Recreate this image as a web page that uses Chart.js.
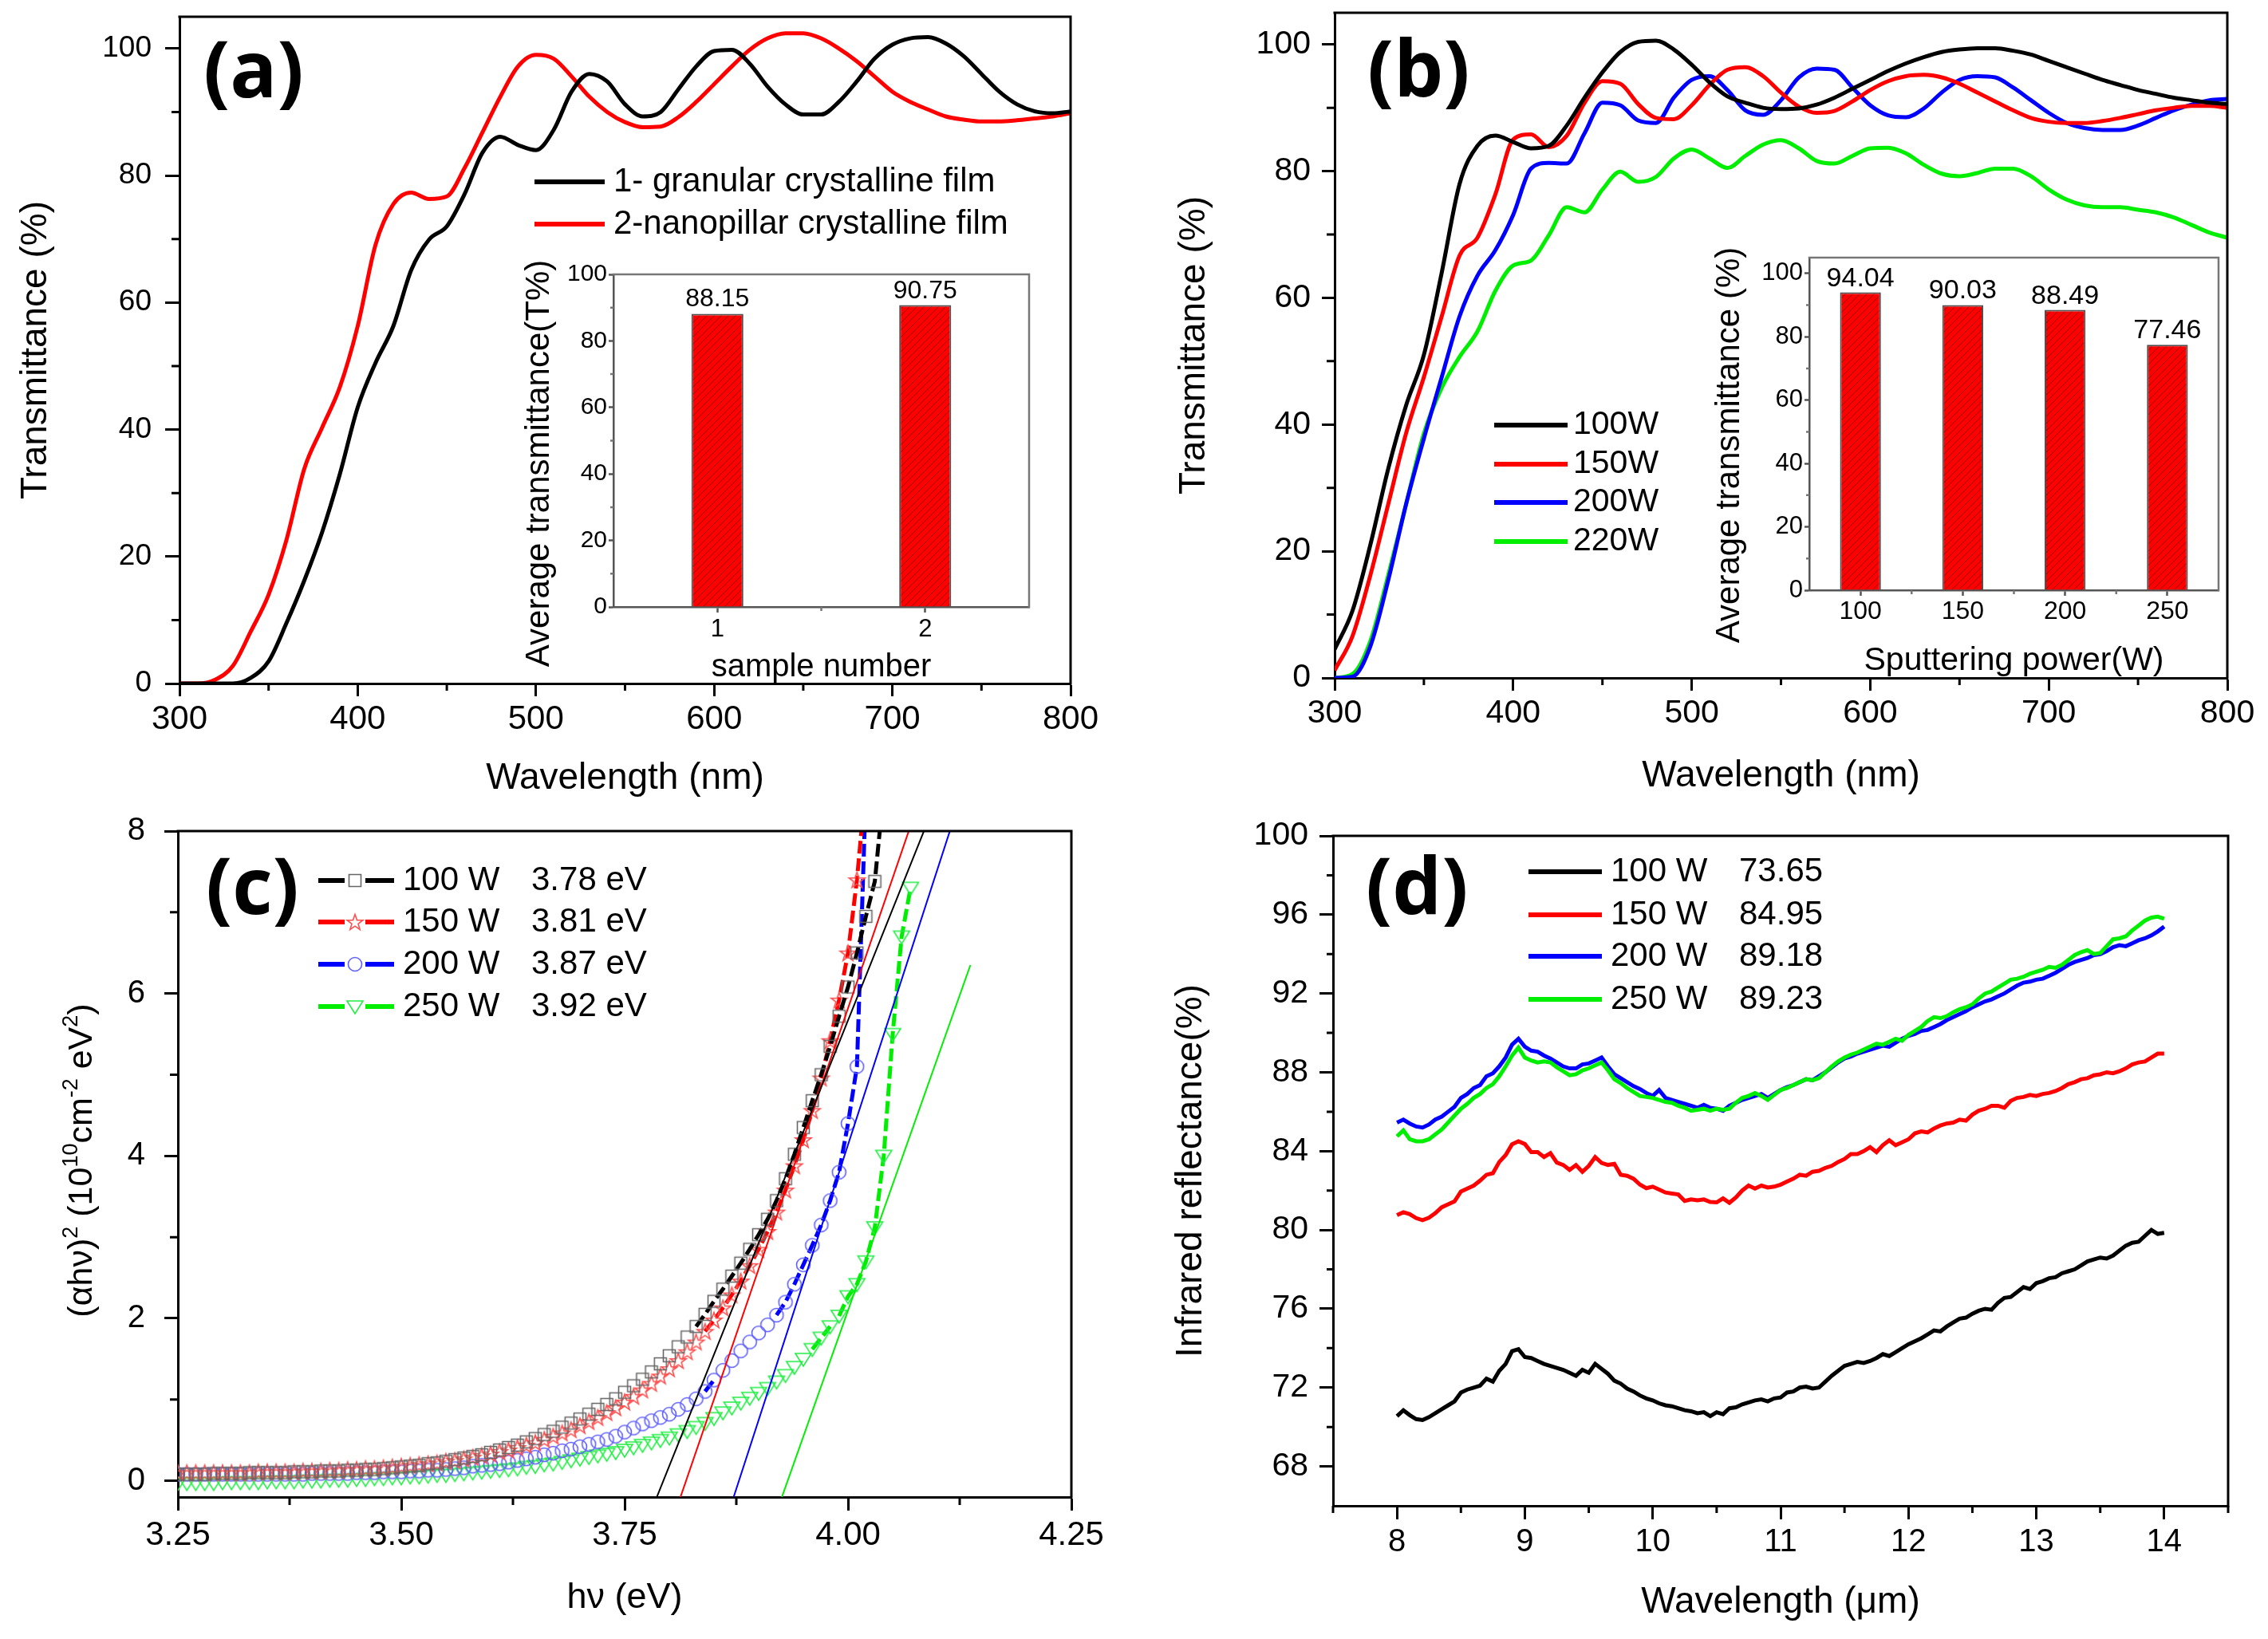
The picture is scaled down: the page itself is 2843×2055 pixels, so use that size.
<!DOCTYPE html>
<html><head><meta charset="utf-8">
<script src="https://cdn.jsdelivr.net/npm/chart.js"></script>
<style>
html,body{margin:0;padding:0;background:#fff;}
body{width:2843px;height:2055px;position:relative;overflow:hidden;}
canvas{position:absolute;}
</style></head><body>
<canvas id="cA" width="1420" height="1000" style="left:0px;top:0px"></canvas>
<canvas id="cB" width="1423" height="1000" style="left:1420px;top:0px"></canvas>
<canvas id="cC" width="1420" height="1055" style="left:0px;top:1000px"></canvas>
<canvas id="cD" width="1423" height="1055" style="left:1420px;top:1000px"></canvas>
<canvas id="cAi" width="700" height="560" style="left:640px;top:300px"></canvas>
<canvas id="cBi" width="690" height="570" style="left:2140px;top:290px"></canvas>
<script>
// ---------------- DATA ----------------
const wavelengthNm = [300,310,320,330,340,350,360,370,380,390,400,410,420,430,440,450,460,470,480,490,500,510,520,530,540,550,560,570,580,590,600,610,620,630,640,650,660,670,680,690,700,710,720,730,740,750,760,770,780,790,800];

// (a) transmittance
const aGranular = [0,0,0,0,0.9,3.5,9.5,16.2,23.8,33.0, 43.5,50.5,56.3,65.1,69.9,72.0,77.1,83.6,86.1,84.8, 84.0,87.2,93.2,96.0,94.8,91.2,89.3,90.0,93.6,97.2, 99.6,99.8,97.6,94.0,91.2,89.6,89.6,91.6,94.8,98.4, 100.6,101.6,101.8,100.8,98.8,96.0,93.2,91.2,90.1,89.8, 90.1];
const aNanopillar = [0,0,0.6,2.8,8.2,14.0,22.6,33.8,40.3,46.7, 56.3,69.1,75.5,77.3,76.3,76.7,81.2,86.8,92.4,97.2, 99.0,98.4,95.6,92.4,90.0,88.4,87.6,87.7,89.2,91.6, 94.4,97.2,99.8,101.6,102.4,102.4,101.6,100.0,98.0,95.6, 93.2,91.6,90.4,89.3,88.8,88.5,88.5,88.7,89.0,89.3, 89.8];
const aLegendLabels = ['1- granular crystalline film', '2-nanopillar crystalline film'];
const insetASample = [1, 2];
const insetAValue = [88.15, 90.75];
const insetALabels = ['88.15', '90.75'];

// (b) transmittance vs sputtering power
const b100W = [4.5,10.6,21.0,33.0,43.0,51.0,64.0,78.0,84.0,85.6, 84.6,83.6,84.0,87.2,91.6,95.6,98.8,100.4,100.6,99.2, 96.8,94.0,91.8,90.8,90.0,89.8,89.9,90.5,91.6,93.0, 94.4,95.8,97.0,98.0,98.8,99.2,99.4,99.4,99.0,98.4, 97.4,96.4,95.4,94.4,93.6,92.8,92.2,91.6,91.2,90.8, 90.6];
const b150W = [1.2,6.6,16.2,27.4,38.6,47.5,57.1,66.7,69.5,76.3, 85.0,85.8,83.8,85.6,90.8,94.2,93.8,90.6,88.4,88.2, 90.4,93.6,96.0,96.4,95.0,92.4,90.2,89.2,89.5,91.0, 92.8,94.2,95.0,95.2,94.8,93.8,92.4,91.0,89.6,88.4, 87.8,87.6,87.6,87.9,88.4,89.0,89.6,90.0,90.3,90.3, 90.0];
const b200W = [0,0.2,5.0,15.4,27.4,37.8,47.5,57.1,63.5,67.5, 73.1,80.4,81.3,81.2,86.0,90.8,90.4,88.0,87.6,91.6, 94.4,95.0,92.8,89.6,88.9,91.2,94.8,96.2,96.0,93.2, 90.4,88.8,88.5,89.9,92.4,94.4,95.0,94.8,93.2,91.2, 89.2,87.6,86.8,86.5,86.5,87.2,88.4,89.6,90.5,91.2, 91.4];
const b220W = [0,0.6,5.8,16.2,27.4,38.6,45.8,50.7,54.7,61.1, 65.1,65.9,69.9,74.3,73.5,77.1,79.9,78.3,79.1,82.0, 83.4,82.0,80.5,82.4,84.2,84.9,83.6,81.6,81.2,82.4, 83.6,83.7,82.8,81.0,79.6,79.2,79.7,80.4,80.4,79.2, 77.1,75.5,74.6,74.3,74.3,73.9,73.5,72.7,71.5,70.3, 69.5];
const bLegendLabels = ['100W', '150W', '200W', '220W'];
const insetBPower = [100, 150, 200, 250];
const insetBValue = [94.04, 90.03, 88.49, 77.46];
const insetBLabels = ['94.04', '90.03', '88.49', '77.46'];

// (c) Tauc plot
const cEnergy = [3.25,3.26,3.27,3.28,3.29,3.30,3.31,3.32,3.33,3.34, 3.35,3.36,3.37,3.38,3.39,3.40,3.41,3.42,3.43,3.44, 3.45,3.46,3.47,3.48,3.49,3.50,3.51,3.52,3.53,3.54, 3.55,3.56,3.57,3.58,3.59,3.60,3.61,3.62,3.63,3.64, 3.65,3.66,3.67,3.68,3.69,3.70,3.71,3.72,3.73,3.74, 3.75,3.76,3.77,3.78,3.79,3.80,3.81,3.82,3.83,3.84, 3.85,3.86,3.87,3.88,3.89,3.90,3.91,3.92,3.93,3.94, 3.95,3.96,3.97,3.98,3.99,4.00,4.01,4.02,4.03,4.04, 4.05,4.06,4.07];
const c100W = [0.08,0.08,0.08,0.08,0.09,0.09,0.09,0.09,0.10,0.10, 0.10,0.10,0.10,0.11,0.11,0.11,0.12,0.12,0.12,0.13, 0.13,0.14,0.14,0.15,0.16,0.17,0.18,0.19,0.21,0.22, 0.24,0.26,0.28,0.30,0.32,0.35,0.38,0.41,0.44,0.48, 0.52,0.57,0.61,0.66,0.71,0.76,0.82,0.88,0.94,1.01, 1.09,1.17,1.25,1.34,1.44,1.54,1.65,1.77,1.90,2.05, 2.21,2.36,2.52,2.68,2.85,3.03,3.22,3.45,3.72,4.02, 4.35,4.68,5.00,5.35,5.72,6.08,6.50,6.95,7.38,8.50, null,null,null];
const c150W = [0.10,0.10,0.10,0.10,0.10,0.10,0.10,0.10,0.10,0.11, 0.11,0.11,0.11,0.11,0.12,0.12,0.12,0.13,0.13,0.14, 0.14,0.15,0.15,0.16,0.17,0.18,0.19,0.20,0.21,0.22, 0.24,0.25,0.27,0.29,0.31,0.33,0.36,0.38,0.41,0.44, 0.47,0.51,0.55,0.59,0.63,0.68,0.73,0.78,0.84,0.90, 0.97,1.04,1.12,1.20,1.29,1.38,1.48,1.59,1.71,1.84, 1.98,2.13,2.29,2.46,2.65,2.85,3.07,3.31,3.58,3.88, 4.20,4.56,4.96,5.42,5.92,6.50,7.40,8.60,null,null, null,null,null];
const c200W = [0.08,0.08,0.08,0.08,0.08,0.08,0.08,0.08,0.08,0.08, 0.08,0.08,0.08,0.08,0.08,0.09,0.09,0.09,0.09,0.09, 0.10,0.10,0.10,0.11,0.11,0.11,0.12,0.12,0.13,0.13, 0.14,0.15,0.16,0.18,0.19,0.20,0.21,0.23,0.25,0.27, 0.29,0.32,0.34,0.37,0.39,0.42,0.45,0.48,0.51,0.55, 0.60,0.65,0.70,0.74,0.78,0.82,0.88,0.94,1.01,1.10, 1.24,1.36,1.48,1.60,1.71,1.82,1.92,2.04,2.20,2.42, 2.66,2.90,3.15,3.45,3.80,4.40,5.10,8.50,null,null, null,null,null];
const c250W = [-0.03,-0.03,-0.03,-0.03,-0.03,-0.02,-0.02,-0.02,-0.02,-0.02, -0.01,-0.01,-0.01,-0.01,0.00,0.00,0.00,0.01,0.01,0.01, 0.02,0.02,0.03,0.03,0.04,0.04,0.05,0.05,0.06,0.07, 0.07,0.08,0.09,0.10,0.11,0.12,0.13,0.14,0.15,0.17, 0.18,0.20,0.21,0.23,0.25,0.27,0.29,0.31,0.33,0.35, 0.38,0.41,0.44,0.47,0.50,0.53,0.57,0.61,0.66,0.71, 0.77,0.84,0.90,0.96,1.02,1.08,1.14,1.22,1.30,1.40, 1.50,1.62,1.76,1.90,2.03,2.27,2.42,2.70,3.12,4.00, 5.50,6.70,7.30];
const cFitX = [[3.786, 4.085], [3.8125, 4.068], [3.872, 4.114], [3.926, 4.137]];
const cFitY = [[-0.2, 8], [-0.2, 8], [-0.2, 8], [-0.2, 6.35]];
const cPowerLabels = ['100 W', '150 W', '200 W', '250 W'];
const cGapLabels = ['3.78 eV', '3.81 eV', '3.87 eV', '3.92 eV'];

// (d) infrared reflectance
const dWavelength = [8.00,8.05,8.10,8.15,8.20,8.25,8.30,8.35,8.40,8.45,8.50,8.55,8.60,8.65,8.70,8.75,8.80,8.85,8.90,8.95,
 9.00,9.05,9.10,9.15,9.20,9.25,9.30,9.35,9.40,9.45,9.50,9.55,9.60,9.65,9.70,9.75,9.80,9.85,9.90,9.95,
 10.00,10.05,10.10,10.15,10.20,10.25,10.30,10.35,10.40,10.45,10.50,10.55,10.60,10.65,10.70,10.75,10.80,10.85,10.90,10.95,
 11.00,11.05,11.10,11.15,11.20,11.25,11.30,11.35,11.40,11.45,11.50,11.55,11.60,11.65,11.70,11.75,11.80,11.85,11.90,11.95,
 12.00,12.05,12.10,12.15,12.20,12.25,12.30,12.35,12.40,12.45,12.50,12.55,12.60,12.65,12.70,12.75,12.80,12.85,12.90,12.95,
 13.00,13.05,13.10,13.15,13.20,13.25,13.30,13.35,13.40,13.45,13.50,13.55,13.60,13.65,13.70,13.75,13.80,13.85,13.90,13.95,
 14.00];
const d100W = [70.55,70.85,70.6,70.4,70.35,70.5,70.7,70.9,71.1,71.3,71.75,71.9,72.0,72.1,72.45,72.3,72.85,73.2,73.85,73.95,
 73.55,73.5,73.35,73.2,73.1,73.0,72.9,72.75,72.6,72.9,72.75,73.2,72.95,72.7,72.35,72.2,71.95,71.8,71.6,71.45,
 71.35,71.2,71.1,71.05,70.95,70.85,70.8,70.7,70.75,70.55,70.75,70.65,70.95,71.0,71.15,71.25,71.35,71.4,71.3,71.45,
 71.5,71.75,71.8,72.0,72.05,71.95,72.0,72.3,72.6,72.85,73.1,73.2,73.3,73.25,73.35,73.5,73.7,73.6,73.8,74.0,
 74.2,74.35,74.5,74.7,74.9,74.85,75.1,75.3,75.5,75.55,75.75,75.9,76.0,75.95,76.3,76.55,76.6,76.85,77.1,77.0,
 77.3,77.4,77.55,77.6,77.8,77.9,78.0,78.2,78.4,78.5,78.6,78.55,78.7,78.95,79.2,79.35,79.4,79.7,80.0,79.8,
 79.85];
const d150W = [80.75,80.9,80.8,80.6,80.5,80.62,80.85,81.15,81.3,81.45,81.95,82.1,82.25,82.5,82.8,82.88,83.45,83.8,84.35,84.5,
 84.36,83.95,83.95,83.7,83.9,83.42,83.3,83.05,83.29,82.95,83.25,83.7,83.4,83.3,83.35,82.8,82.75,82.6,82.3,82.12,
 82.2,82.05,81.9,81.85,81.8,81.47,81.55,81.5,81.55,81.42,81.4,81.6,81.38,81.65,82.0,82.25,82.1,82.25,82.15,82.2,
 82.3,82.45,82.6,82.8,82.75,82.95,83.0,83.15,83.25,83.45,83.6,83.85,83.85,84.0,84.2,83.95,84.3,84.55,84.3,84.45,
 84.6,84.9,85.0,84.95,85.15,85.3,85.4,85.45,85.6,85.55,85.85,86.05,86.15,86.3,86.3,86.2,86.55,86.7,86.75,86.85,
 86.8,86.9,86.95,87.05,87.2,87.4,87.5,87.65,87.7,87.85,87.9,88.0,87.95,88.05,88.2,88.4,88.5,88.55,88.75,88.95,
 88.95];
const d200W = [85.45,85.6,85.4,85.25,85.2,85.35,85.6,85.75,86.0,86.25,86.7,86.9,87.2,87.35,87.8,87.95,88.3,88.75,89.4,89.7,
 89.3,89.1,89.05,88.85,88.7,88.5,88.3,88.2,88.2,88.4,88.45,88.6,88.75,88.3,87.9,87.7,87.5,87.3,87.15,86.95,
 86.8,87.1,86.7,86.6,86.5,86.4,86.3,86.2,86.35,86.2,86.15,86.05,86.3,86.45,86.6,86.7,86.8,86.9,86.7,86.9,
 87.1,87.25,87.35,87.5,87.65,87.6,87.8,88.0,88.25,88.5,88.7,88.8,88.95,89.05,89.15,89.25,89.35,89.3,89.5,89.7,
 89.85,89.95,90.1,90.15,90.3,90.45,90.65,90.8,90.95,91.1,91.3,91.45,91.6,91.7,91.85,92.0,92.2,92.4,92.55,92.6,
 92.7,92.75,92.9,93.05,93.25,93.45,93.6,93.7,93.8,93.95,94.0,94.15,94.35,94.45,94.4,94.55,94.7,94.8,94.95,95.15,
 95.4];
const d250W = [84.75,85.05,84.6,84.5,84.5,84.6,84.85,85.1,85.45,85.8,86.15,86.4,86.7,86.9,87.2,87.4,87.8,88.3,88.85,89.25,
 88.75,88.6,88.5,88.55,88.5,88.25,88.05,87.85,87.9,88.1,88.2,88.35,88.5,88.1,87.65,87.45,87.2,87.0,86.8,86.75,
 86.7,86.6,86.5,86.45,86.3,86.2,86.05,86.1,86.15,86.05,86.15,86.1,86.15,86.45,86.7,86.8,86.95,86.8,86.6,86.85,
 87.1,87.2,87.35,87.5,87.65,87.6,87.7,88.0,88.3,88.55,88.75,88.9,89.0,89.15,89.3,89.45,89.4,89.55,89.7,89.6,
 89.9,90.1,90.3,90.6,90.8,90.75,90.85,91.05,91.2,91.3,91.45,91.75,92.0,92.1,92.3,92.5,92.7,92.75,92.85,93.0,
 93.1,93.2,93.35,93.3,93.45,93.7,93.95,94.1,94.2,94.0,94.05,94.4,94.75,94.8,94.9,95.2,95.45,95.7,95.85,95.9,
 95.8];
const dPowerLabels = ['100 W', '150 W', '200 W', '250 W'];
const dAvgLabels = ['73.65', '84.95', '89.18', '89.23'];

// tick values
const nmTicks = [300,400,500,600,700,800];
const nmMinor = [350,450,550,650,750];
const pctTicks = [0,20,40,60,80,100];
const pctMinor = [10,30,50,70,90];
const cXTicks = [3.25,3.50,3.75,4.00,4.25];
const cXMinor = [3.375,3.625,3.875,4.125];
const cYTicks = [0,2,4,6,8];
const cYMinor = [1,3,5,7];
const dXTicks = [8,9,10,11,12,13,14];
const dXMinor = [7.5,8.5,9.5,10.5,11.5,12.5,13.5,14.5];
const dYTicks = [68,72,76,80,84,88,92,96,100];
const dYMinor = [70,74,78,82,86,90,94,98];
const insetAXTicks = [1,2];
const insetAXMinor = [1.5];
const insetBXTicks = [100,150,200,250];
const insetBXMinor = [125,175,225];

// ---------------- HELPERS ----------------
const FONT = "'Liberation Sans', Arial, Helvetica, sans-serif";
Chart.defaults.font.family = FONT;
Chart.defaults.color = '#000';

const COL = { black: '#000000', red: '#ff0000', blue: '#0000ff', green: '#00ee00' };

function pts(xs, ys) { return xs.map((x, i) => ({ x: x, y: ys[i] })); }

function mkAxis(o) {
  const ax = {
    type: 'linear', position: o.pos, min: o.min, max: o.max, bounds: 'data', offset: false,
    afterBuildTicks: s => { s.ticks = o.ticks.map(v => ({ value: v })); },
    afterFit: s => {
      if (o.pos === 'left') s.width = o.size; else s.height = o.size;
      s.paddingTop = 0; s.paddingBottom = 0; s.paddingLeft = 0; s.paddingRight = 0;
    },
    border: { display: true, color: o.color, width: o.lw },
    grid: { display: true, drawOnChartArea: false, drawTicks: true, offset: false, tickLength: o.tl, tickWidth: o.lw, tickColor: o.color },
    ticks: { autoSkip: false, maxRotation: 0, minRotation: 0, padding: o.pad, color: '#000', font: { size: o.fs }, callback: o.fmt || (v => String(v)) },
    title: { display: false }
  };
  if (o.title) {
    ax.title = { display: true, text: o.title, color: '#000', font: { size: o.tfs, lineHeight: 1 },
      padding: o.pos === 'left' ? { top: o.tpad, bottom: 0 } : { top: 0, bottom: o.tpad } };
  }
  return ax;
}

function baseOpts(padding, x, y) {
  return {
    responsive: false, animation: false, devicePixelRatio: 1, events: [],
    layout: { padding: padding },
    plugins: { legend: { display: false }, tooltip: { enabled: false } },
    scales: { x: x, y: y }
  };
}

function decor(cfg) {
  return {
    id: 'decor',
    afterDraw(chart) {
      const ctx = chart.ctx, a = chart.chartArea, sx = chart.scales.x, sy = chart.scales.y;
      ctx.save();
      ctx.strokeStyle = cfg.color; ctx.lineWidth = cfg.width; ctx.lineCap = 'square';
      ctx.beginPath();
      ctx.moveTo(a.left, a.top); ctx.lineTo(a.right, a.top); ctx.lineTo(a.right, a.bottom);
      ctx.stroke();
      ctx.lineCap = 'butt';
      ctx.beginPath();
      (cfg.minorX || []).forEach(v => { const p = sx.getPixelForValue(v); ctx.moveTo(p, a.bottom); ctx.lineTo(p, a.bottom + cfg.lenX); });
      (cfg.minorY || []).forEach(v => { const p = sy.getPixelForValue(v); ctx.moveTo(a.left, p); ctx.lineTo(a.left - cfg.lenY, p); });
      ctx.stroke();
      ctx.restore();
      if (cfg.draw) { ctx.save(); cfg.draw(chart, ctx); ctx.restore(); }
    }
  };
}

function panelLetter(ctx, text, x, y) {
  ctx.font = "bold 98px 'Open Sans', " + FONT;
  ctx.fillStyle = '#000'; ctx.textAlign = 'left'; ctx.textBaseline = 'alphabetic';
  ctx.fillText(text, x, y);
}

function lineLegend(ctx, colors, texts, o) {
  ctx.font = o.font; ctx.textBaseline = 'middle'; ctx.textAlign = 'left'; ctx.fillStyle = '#000';
  colors.forEach((c, i) => {
    const y = o.ys[i];
    ctx.strokeStyle = c; ctx.lineWidth = o.lw; ctx.lineCap = 'butt';
    ctx.beginPath(); ctx.moveTo(o.x0, y); ctx.lineTo(o.x1, y); ctx.stroke();
    texts[i].forEach((t, k) => ctx.fillText(t, o.tx[k], y));
  });
}

// rotated text with superscript runs: parts = [[text, isSup], ...]
function richVertical(ctx, parts, cx, cy, size) {
  const base = size + 'px ' + FONT, sup = Math.round(size * 0.62) + 'px ' + FONT;
  let total = 0;
  parts.forEach(p => { ctx.font = p[1] ? sup : base; total += ctx.measureText(p[0]).width; });
  ctx.translate(cx, cy); ctx.rotate(-Math.PI / 2);
  ctx.fillStyle = '#000'; ctx.textAlign = 'left'; ctx.textBaseline = 'alphabetic';
  let x = -total / 2; const yb = size * 0.36;
  parts.forEach(p => {
    ctx.font = p[1] ? sup : base;
    ctx.fillText(p[0], x, p[1] ? yb - size * 0.42 : yb);
    x += ctx.measureText(p[0]).width;
  });
}

function markerCanvas(kind, color) {
  const s = 26, c = document.createElement('canvas'); c.width = s; c.height = s;
  const g = c.getContext('2d'); g.strokeStyle = color; g.lineWidth = 1.6; g.beginPath();
  if (kind === 'rect') g.rect(5.5, 5.5, 15, 15);
  else if (kind === 'circle') g.arc(13, 13, 8.5, 0, Math.PI * 2);
  else if (kind === 'tri') { g.moveTo(3, 6); g.lineTo(23, 6); g.lineTo(13, 22); g.closePath(); }
  else if (kind === 'star') {
    for (let k = 0; k < 10; k++) {
      const r = k % 2 ? 4.2 : 10.5, an = -Math.PI / 2 + k * Math.PI / 5;
      const px = 13 + r * Math.cos(an), py = 14 + r * Math.sin(an);
      if (k) g.lineTo(px, py); else g.moveTo(px, py);
    }
    g.closePath();
  }
  g.stroke();
  return c;
}

function hatchPattern() {
  const c = document.createElement('canvas'); c.width = 9; c.height = 9;
  const g = c.getContext('2d');
  g.fillStyle = '#ff0000'; g.fillRect(0, 0, 9, 9);
  g.strokeStyle = 'rgba(110,0,0,0.75)'; g.lineWidth = 1;
  g.beginPath();
  g.moveTo(0, 9); g.lineTo(9, 0);
  g.moveTo(-2, 2); g.lineTo(2, -2);
  g.moveTo(7, 11); g.lineTo(11, 7);
  g.stroke();
  return g.createPattern(c, 'repeat');
}

function smoothCurve(xs, ys, color, extra) {
  return Object.assign({ data: pts(xs, ys), borderColor: color, backgroundColor: color, borderWidth: 5,
    pointRadius: 0, fill: false, cubicInterpolationMode: 'monotone' }, extra || {});
}

// ---------------- PANEL (a) ----------------
new Chart(document.getElementById('cA'), {
  type: 'line',
  data: { datasets: [
    smoothCurve(wavelengthNm, aGranular, COL.black),
    smoothCurve(wavelengthNm, aNanopillar, COL.red)
  ] },
  options: baseOpts({ left: 0, top: 21, right: 78, bottom: 0 },
    mkAxis({ pos: 'bottom', min: 300, max: 800, ticks: nmTicks, size: 143, color: '#000', lw: 3, tl: 16, pad: 4, fs: 42, title: 'Wavelength (nm)', tfs: 46, tpad: 1 }),
    mkAxis({ pos: 'left', min: 0, max: 105, ticks: pctTicks, size: 225, color: '#000', lw: 3, tl: 18, pad: 17, fs: 37, title: 'Transmittance (%)', tfs: 46, tpad: 22 })),
  plugins: [decor({ color: '#000', width: 3, minorX: nmMinor, minorY: pctMinor, lenX: 9, lenY: 10,
    draw: (chart, ctx) => {
      panelLetter(ctx, '(a)', 255, 122);
      lineLegend(ctx, [COL.black, COL.red], aLegendLabels.map(t => [t]),
        { font: '42px ' + FONT, ys: [228, 281], x0: 670, x1: 758, tx: [769], lw: 6 });
    } })]
});

// inset (a)
new Chart(document.getElementById('cAi'), {
  type: 'bar',
  data: { datasets: [{ data: pts(insetASample, insetAValue), backgroundColor: hatchPattern(), borderColor: '#505050', borderWidth: 2, barPercentage: 0.25, categoryPercentage: 1 }] },
  options: baseOpts({ left: 0, top: 44, right: 50, bottom: 0 },
    mkAxis({ pos: 'bottom', min: 0.5, max: 2.5, ticks: insetAXTicks, size: 99, color: '#555', lw: 2.5, tl: 7, pad: 3, fs: 31, title: 'sample number', tfs: 40, tpad: 3 }),
    mkAxis({ pos: 'left', min: 0, max: 100, ticks: pctTicks, size: 129, color: '#555', lw: 2.5, tl: 6, pad: 2, fs: 30 })),
  plugins: [decor({ color: '#777', width: 2.5, minorX: insetAXMinor, minorY: pctMinor, lenX: 5, lenY: 4,
    draw: (chart, ctx) => {
      const meta = chart.getDatasetMeta(0);
      ctx.font = '32px ' + FONT; ctx.fillStyle = '#000'; ctx.textAlign = 'center'; ctx.textBaseline = 'alphabetic';
      meta.data.forEach((b, i) => ctx.fillText(insetALabels[i], b.x, b.y - 9));
      ctx.translate(36, 281); ctx.rotate(-Math.PI / 2);
      ctx.font = '42px ' + FONT; ctx.textBaseline = 'middle';
      ctx.fillText('Average transmittance(T%)', 0, 0);
    } })]
});

// ---------------- PANEL (b) ----------------
new Chart(document.getElementById('cB'), {
  type: 'line',
  data: { datasets: [
    smoothCurve(wavelengthNm, b100W, COL.black),
    smoothCurve(wavelengthNm, b150W, COL.red),
    smoothCurve(wavelengthNm, b200W, COL.blue),
    smoothCurve(wavelengthNm, b220W, COL.green)
  ] },
  options: baseOpts({ left: 0, top: 16, right: 51, bottom: 0 },
    mkAxis({ pos: 'bottom', min: 300, max: 800, ticks: nmTicks, size: 150, color: '#000', lw: 3, tl: 16, pad: 4, fs: 41, title: 'Wavelength (nm)', tfs: 46, tpad: 4 }),
    mkAxis({ pos: 'left', min: 0, max: 105, ticks: pctTicks, size: 253, color: '#000', lw: 3, tl: 16, pad: 14, fs: 41, title: 'Transmittance (%)', tfs: 46, tpad: 54 })),
  plugins: [decor({ color: '#000', width: 3, minorX: nmMinor, minorY: pctMinor, lenX: 9, lenY: 10,
    draw: (chart, ctx) => {
      panelLetter(ctx, '(b)', 294, 121);
      lineLegend(ctx, [COL.black, COL.red, COL.blue, COL.green], bLegendLabels.map(t => [t]),
        { font: '41px ' + FONT, ys: [533, 582, 630, 679], x0: 453, x1: 545, tx: [552], lw: 6 });
    } })]
});

// inset (b)
new Chart(document.getElementById('cBi'), {
  type: 'bar',
  data: { datasets: [{ data: pts(insetBPower, insetBValue), backgroundColor: hatchPattern(), borderColor: '#505050', borderWidth: 2, barPercentage: 0.4, categoryPercentage: 1 }] },
  options: baseOpts({ left: 0, top: 33, right: 49, bottom: 0 },
    mkAxis({ pos: 'bottom', min: 75, max: 275, ticks: insetBXTicks, size: 120, color: '#555', lw: 2.5, tl: 7, pad: 1, fs: 32, title: 'Sputtering power(W)', tfs: 41, tpad: 11 }),
    mkAxis({ pos: 'left', min: 0, max: 105, ticks: pctTicks, size: 128, color: '#555', lw: 2.5, tl: 6, pad: 2, fs: 31 })),
  plugins: [decor({ color: '#777', width: 2.5, minorX: insetBXMinor, minorY: pctMinor, lenX: 5, lenY: 4,
    draw: (chart, ctx) => {
      const meta = chart.getDatasetMeta(0);
      ctx.font = '34px ' + FONT; ctx.fillStyle = '#000'; ctx.textAlign = 'center'; ctx.textBaseline = 'alphabetic';
      meta.data.forEach((b, i) => ctx.fillText(insetBLabels[i], b.x, b.y - 8));
      ctx.translate(28, 268); ctx.rotate(-Math.PI / 2);
      ctx.font = '42px ' + FONT; ctx.textBaseline = 'middle';
      ctx.fillText('Average transmittance (%)', 0, 0);
    } })]
});

// ---------------- PANEL (c) ----------------
const cColors = [COL.black, COL.red, COL.blue, COL.green];
const cMarkers = [markerCanvas('rect', '#666666'), markerCanvas('star', '#ff5050'), markerCanvas('circle', '#6060ff'), markerCanvas('tri', '#22ee44')];
function taucSeries(ys, i) {
  const color = cColors[i];
  return { data: pts(cEnergy, ys), borderColor: color, backgroundColor: 'rgba(0,0,0,0)', borderWidth: 5, borderDash: [16, 6],
    pointStyle: cMarkers[i], pointRadius: 9, pointBorderWidth: 0, pointBackgroundColor: 'rgba(0,0,0,0)', pointBorderColor: 'rgba(0,0,0,0)',
    tension: 0, fill: false, order: i,
    segment: { borderColor: s => Math.hypot(s.p1.x - s.p0.x, s.p1.y - s.p0.y) > 18 ? color : 'rgba(0,0,0,0)' } };
}
function fitLine(i) {
  return { data: pts(cFitX[i], cFitY[i]), borderColor: cColors[i], borderWidth: 2, pointRadius: 0, tension: 0, fill: false, order: -1 };
}
new Chart(document.getElementById('cC'), {
  type: 'line',
  data: { datasets: [
    taucSeries(c100W, 0), taucSeries(c150W, 1), taucSeries(c200W, 2), taucSeries(c250W, 3),
    fitLine(0), fitLine(1), fitLine(2), fitLine(3)
  ] },
  options: baseOpts({ left: 0, top: 42, right: 77, bottom: 0 },
    mkAxis({ pos: 'bottom', min: 3.25, max: 4.25, ticks: cXTicks, size: 178, color: '#000', lw: 3, tl: 17, pad: 6, fs: 42, fmt: v => Number(v).toFixed(2), title: 'h\u03BD (eV)', tfs: 45, tpad: 29 }),
    mkAxis({ pos: 'left', min: -0.2, max: 8, ticks: cYTicks, size: 223, color: '#000', lw: 3, tl: 17, pad: 24, fs: 40 })),
  plugins: [decor({ color: '#000', width: 3, minorX: cXMinor, minorY: cYMinor, lenX: 10, lenY: 10,
    draw: (chart, ctx) => {
      panelLetter(ctx, '(c)', 258, 146);
      const ys = [104, 156, 209, 262];
      ctx.font = '42px ' + FONT; ctx.textBaseline = 'middle'; ctx.textAlign = 'left'; ctx.fillStyle = '#000';
      cColors.forEach((c, i) => {
        const y = ys[i];
        ctx.strokeStyle = c; ctx.lineWidth = 6; ctx.lineCap = 'butt';
        ctx.beginPath(); ctx.moveTo(399, y); ctx.lineTo(432, y); ctx.moveTo(458, y); ctx.lineTo(494, y); ctx.stroke();
        const m = cMarkers[i]; ctx.drawImage(m, 445 - m.width / 2, y - m.height / 2);
        ctx.fillText(cPowerLabels[i], 505, y);
        ctx.fillText(cGapLabels[i], 666, y);
      });
      ctx.save();
      richVertical(ctx, [['(\u03B1h\u03BD)', false], ['2', true], [' (10', false], ['10', true], ['cm', false], ['-2', true], [' eV', false], ['2', true], [')', false]], 100, 455, 43);
      ctx.restore();
    } })]
});

// ---------------- PANEL (d) ----------------
function noisyLine(ys, color, order) {
  return { data: pts(dWavelength, ys), borderColor: color, borderWidth: 5, pointRadius: 0, tension: 0, fill: false, order: order };
}
new Chart(document.getElementById('cD'), {
  type: 'line',
  data: { datasets: [
    noisyLine(d100W, COL.black, 3), noisyLine(d150W, COL.red, 2), noisyLine(d200W, COL.blue, 1), noisyLine(d250W, COL.green, 0)
  ] },
  options: baseOpts({ left: 0, top: 48, right: 50, bottom: 0 },
    mkAxis({ pos: 'bottom', min: 7.5, max: 14.5, ticks: dXTicks, size: 167, color: '#000', lw: 3, tl: 17, pad: 5, fs: 40, title: 'Wavelength (\u03BCm)', tfs: 46, tpad: 23 }),
    mkAxis({ pos: 'left', min: 66, max: 100, ticks: dYTicks, size: 251, color: '#000', lw: 3, tl: 17, pad: 14, fs: 41, title: 'Infrared reflectance(%)', tfs: 46, tpad: 50 })),
  plugins: [decor({ color: '#000', width: 3, minorX: dXMinor, minorY: dYMinor, lenX: 9, lenY: 8,
    draw: (chart, ctx) => {
      panelLetter(ctx, '(d)', 292, 146);
      lineLegend(ctx, [COL.black, COL.red, COL.blue, COL.green], dPowerLabels.map((t, i) => [t, dAvgLabels[i]]),
        { font: '42px ' + FONT, ys: [93, 147, 199, 253], x0: 496, x1: 588, tx: [599, 760], lw: 6 });
    } })]
});
</script>
</body></html>
